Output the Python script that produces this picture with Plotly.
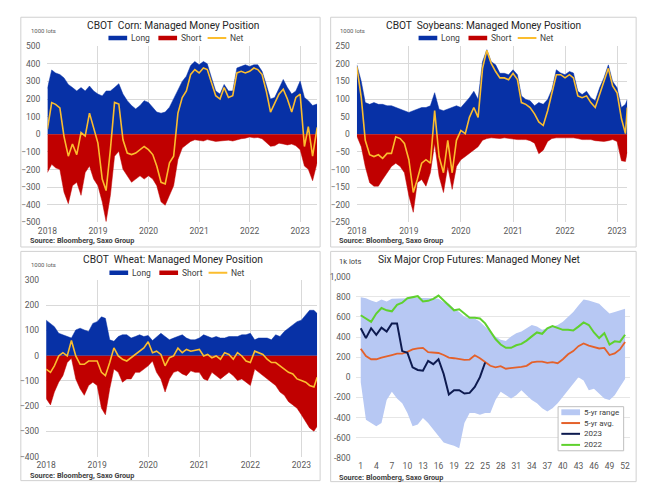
import pandas as pd
import plotly.graph_objects as go

# ---------------- DATA ----------------
year_vals = ["2018-01-01", "2019-01-01", "2020-01-01", "2021-01-01", "2022-01-01", "2023-01-01"]
year_text = ["2018", "2019", "2020", "2021", "2022", "2023"]

corn_dates = list(pd.date_range("2018-01-01", "2023-04-01", freq="MS").strftime("%Y-%m-%d")) + ["2023-05-04"]
corn_long = [260, 365, 348, 339, 320, 283, 265, 246, 265, 246, 274, 246,
             228, 218, 246, 246, 265, 287, 228, 191, 163, 144, 163, 191,
             181, 154, 126, 120, 126, 154, 200, 250, 300, 330, 390, 413,
             394, 413, 400, 320, 246, 228, 283, 246, 246, 376, 385, 394,
             385, 394, 394, 357, 283, 200, 209, 265, 311, 265, 228, 246,
             302, 209, 191, 163, 172]
corn_short = [-217, -170, -190, -200, -328, -393, -291, -272, -346, -217, -180, -254,
              -291, -383, -494, -346, -124, -96, -198, -235, -272, -254, -235, -254,
              -235, -254, -291, -383, -402, -346, -291, -143, -78, -59, -40, -31,
              -35, -38, -30, -35, -40, -38, -35, -33, -38, -30, -25, -22,
              -15, -20, -18, -25, -45, -68, -65, -50, -55, -60, -55, -65,
              -87, -180, -198, -263, -160]
corn_net = [30, 180, 170, 150, -13, -124, -55, -115, 10, -10, 120, 40,
            -50, -254, -319, -87, 181, 172, -31, -106, -115, -106, -87, -69,
            -87, -115, -180, -272, -281, -161, -124, 120, 209, 246, 340, 367,
            348, 376, 367, 293, 219, 200, 265, 209, 219, 348, 357, 348,
            357, 376, 367, 339, 246, 126, 172, 228, 256, 200, 126, 209,
            228, -69, 43, -124, 40]

soy_dates = list(pd.date_range("2018-01-01", "2023-03-01", freq="MS").strftime("%Y-%m-%d")) + ["2023-03-14"]
soy_long = [197, 150, 90, 85, 90, 85, 85, 81, 81, 76, 71, 67,
            62, 67, 71, 76, 76, 81, 118, 71, 67, 71, 76, 81,
            76, 90, 104, 122, 99, 206, 240, 206, 197, 173, 173, 169,
            183, 169, 109, 99, 95, 81, 90, 85, 99, 127, 183, 174,
            169, 178, 174, 122, 113, 122, 104, 95, 132, 160, 197, 150,
            132, 76, 85, 99]
soy_short = [-5, -35, -91, -137, -147, -147, -128, -109, -91, -82, -91, -109,
             -174, -221, -137, -128, -147, -109, -26, -119, -165, -91, -156, -91,
             -72, -63, -54, -45, -35, -17, -12, -10, -12, -12, -10, -12,
             -12, -15, -15, -15, -18, -25, -55, -45, -20, -12, -10, -10,
             -10, -8, -10, -12, -15, -15, -15, -18, -20, -20, -18, -15,
             -20, -75, -77, -50]
soy_net = [192, 104, -17, -58, -63, -58, -68, -54, -54, -7, -12, -26,
           -72, -165, -128, -82, -72, -82, 67, -63, -109, -17, -109, -17,
           11, 2, 48, 76, 48, 187, 238, 201, 178, 160, 160, 155,
           173, 155, 90, 85, 76, 58, 35, 25, 67, 114, 169, 169,
           160, 169, 160, 109, 104, 109, 90, 76, 114, 146, 187, 137,
           118, 44, 2, 76]

wheat_dates = list(pd.date_range("2018-01-01", "2023-04-01", freq="MS").strftime("%Y-%m-%d")) + ["2023-04-24"]
wheat_long = [141, 128, 115, 89, 83, 75, 70, 102, 109, 102, 96, 128,
              135, 154, 148, 63, 57, 76, 83, 83, 70, 76, 83, 76,
              80, 60, 76, 89, 76, 63, 70, 76, 83, 70, 63, 63,
              70, 83, 76, 70, 76, 70, 70, 76, 76, 76, 83, 83,
              89, 63, 70, 70, 70, 63, 83, 76, 96, 109, 122, 135,
              141, 160, 180, 180, 167]
wheat_short = [-170, -195, -144, -105, -79, -27, -10, -92, -131, -157, -118, -105,
               -118, -208, -234, -131, -53, -66, -105, -92, -92, -66, -66, -53,
               -40, -21, -66, -92, -144, -92, -66, -60, -72, -79, -60, -66,
               -66, -92, -98, -66, -79, -92, -79, -66, -79, -98, -92, -105,
               -118, -53, -66, -79, -92, -105, -118, -144, -157, -182, -195, -208,
               -234, -260, -286, -299, -280]
wheat_net = [-53, -66, -40, -1, 12, -1, 60, -1, -34, -34, -21, -21,
             -21, -66, -79, -27, 31, -1, -14, -21, -8, 5, 18, 31,
             55, 12, 18, 5, -40, -8, -1, 30, 12, 25, 18, 20,
             25, -1, 5, -8, -1, -14, 12, 5, -14, 12, -1, -21,
             -27, 18, 12, 5, -14, -27, -27, -40, -53, -66, -72, -92,
             -98, -105, -118, -124, -85]

weeks = list(range(1, 53))
week_ticks = [1, 4, 7, 10, 13, 16, 19, 22, 25, 28, 31, 34, 37, 40, 43, 46, 49, 52]
crop_ytick_vals = [-800, -600, -400, -200, 0, 200, 400, 600, 800, 1000]
crop_ytick_text = ["-800", "-600", "-400", "-200", "0", "200", "400", "600", "800", "1,000"]
range_hi = [796, 786, 763, 747, 773, 754, 780, 780, 780, 785,
            790, 790, 785, 785, 785, 780, 747, 731, 682, 650,
            601, 585, 585, 552, 504, 455, 407, 374, 360, 407,
            439, 455, 488, 520, 504, 472, 488, 504, 520, 552,
            601, 650, 715, 773, 763, 747, 731, 682, 634, 650,
            666, 682]
range_lo = [-48, -420, -453, -485, -453, -225, -144, -209, -258, -355,
            -485, -469, -404, -453, -517, -582, -647, -663, -679, -705,
            -453, -355, -355, -371, -355, -355, -225, -144, -177, -209,
            -177, -128, -177, -225, -258, -307, -339, -307, -258, -193,
            -128, -63, 2, -31, -128, -112, -160, -209, -225, -177,
            -96, -15]
avg5 = [284, 212, 180, 180, 196, 212, 222, 235, 235, 254,
        277, 287, 293, 251, 248, 242, 222, 196, 190, 183,
        173, 177, 219, 190, 154, 115, 99, 112, 86, 92,
        92, 105, 115, 148, 157, 157, 144, 151, 141, 180,
        229, 261, 310, 336, 316, 300, 287, 293, 222, 238,
        277, 352]
y2023 = [488, 390, 488, 423, 494, 455, 536, 536, 261, 245,
         99, 73, 66, 164, 131, 180, 34, -170, -128, -128,
         -160, -154, -96, 2, 148]
y2022 = [617, 585, 552, 634, 689, 666, 656, 721, 741, 786,
         799, 806, 754, 760, 780, 812, 763, 715, 666, 676,
         634, 592, 592, 585, 536, 455, 381, 326, 293, 293,
         319, 332, 365, 407, 446, 433, 488, 510, 494, 472,
         472, 465, 504, 546, 520, 446, 390, 439, 326, 358,
         352, 423]

# ---------------- STYLE ----------------
W, H = 646, 493
BLUE = "#0731a6"
RED = "#c00000"
YEL = "#fbbd2e"
GRID = "#d9d9d9"
TICK = "#595959"
FONT = "Roboto"
RANGE_C = "#b7c8f3"
AVG_C = "#e4612a"
C2023 = "#0d1a4f"
C2022 = "#5fd12e"


def px(x):
    return x / W


def py(y):
    return 1 - y / H


fig = go.Figure()


def add_pos_panel(n, dates, long_, short_, net_):
    xa = "x" if n == 1 else f"x{n}"
    ya = "y" if n == 1 else f"y{n}"
    fig.add_trace(go.Scatter(x=dates, y=long_, xaxis=xa, yaxis=ya, mode="lines",
                             fill="tozeroy", fillcolor=BLUE, line=dict(color=BLUE, width=0.5),
                             showlegend=False, name="Long"))
    fig.add_trace(go.Scatter(x=dates, y=short_, xaxis=xa, yaxis=ya, mode="lines",
                             fill="tozeroy", fillcolor=RED, line=dict(color=RED, width=0.5),
                             showlegend=False, name="Short"))
    fig.add_trace(go.Scatter(x=dates, y=net_, xaxis=xa, yaxis=ya, mode="lines",
                             line=dict(color=YEL, width=1.6),
                             showlegend=False, name="Net"))


add_pos_panel(1, corn_dates, corn_long, corn_short, corn_net)
add_pos_panel(2, soy_dates, soy_long, soy_short, soy_net)
add_pos_panel(3, wheat_dates, wheat_long, wheat_short, wheat_net)

# panel 4
fig.add_trace(go.Scatter(x=weeks, y=range_lo, xaxis="x4", yaxis="y4", mode="lines",
                         line=dict(width=0, color=RANGE_C), showlegend=False, name="5-yr range low"))
fig.add_trace(go.Scatter(x=weeks, y=range_hi, xaxis="x4", yaxis="y4", mode="lines",
                         fill="tonexty", fillcolor=RANGE_C,
                         line=dict(width=0, color=RANGE_C), showlegend=False, name="5-yr range"))
fig.add_trace(go.Scatter(x=weeks, y=avg5, xaxis="x4", yaxis="y4", mode="lines",
                         line=dict(color=AVG_C, width=1.8), showlegend=False, name="5-yr avg."))
fig.add_trace(go.Scatter(x=weeks[:len(y2023)], y=y2023, xaxis="x4", yaxis="y4", mode="lines",
                         line=dict(color=C2023, width=2), showlegend=False, name="2023"))
fig.add_trace(go.Scatter(x=weeks, y=y2022, xaxis="x4", yaxis="y4", mode="lines",
                         line=dict(color=C2022, width=2), showlegend=False, name="2022"))

tickfont = dict(family=FONT, size=8.5, color=TICK)


def date_xaxis(dom, end, anchor):
    return dict(domain=dom, type="date", range=["2018-01-01", end], anchor=anchor,
                tickvals=year_vals, ticktext=year_text, showgrid=True, gridcolor=GRID,
                gridwidth=1, zeroline=False, showline=False, ticks="", tickfont=tickfont,
                ticklabelstandoff=2, fixedrange=True)


def val_yaxis(dom, rng, dtick, anchor):
    return dict(domain=dom, range=rng, dtick=dtick, anchor=anchor, showgrid=True,
                gridcolor=GRID, gridwidth=1, zeroline=False, showline=False, ticks="",
                tickfont=tickfont, ticklabelstandoff=6, fixedrange=True)


shapes = []
annotations = []

# panel borders
for (x0, y0, x1, y1) in [(11, 12.5, 315, 247), (325.7, 12.5, 636, 247),
                         (11, 251.5, 315, 485.5), (325.7, 251.5, 636, 486.5)]:
    shapes.append(dict(type="rect", xref="paper", yref="paper", x0=px(x0), x1=px(x1),
                       y0=py(y1), y1=py(y0), line=dict(color="#d0d0d0", width=1),
                       fillcolor="rgba(0,0,0,0)", layer="below"))


def txt(x, y, s, size, color="#333333", xanchor="left", bold=False):
    annotations.append(dict(xref="paper", yref="paper", x=px(x), y=py(y),
                            text=(f"<b>{s}</b>" if bold else s),
                            showarrow=False, xanchor=xanchor, yanchor="middle",
                            font=dict(family=FONT, size=size, color=color)))


def top_legend(x_long, y):
    shapes.append(dict(type="rect", xref="paper", yref="paper", x0=px(x_long), x1=px(x_long + 19),
                       y0=py(y + 2.3), y1=py(y - 2.3), fillcolor=BLUE, line=dict(width=0), layer="above"))
    txt(x_long + 20.5, y, "Long", 8.5, "#404040")
    xs = x_long + 50.7
    shapes.append(dict(type="rect", xref="paper", yref="paper", x0=px(xs), x1=px(xs + 19),
                       y0=py(y + 2.3), y1=py(y - 2.3), fillcolor=RED, line=dict(width=0), layer="above"))
    txt(xs + 20.5, y, "Short", 8.5, "#404040")
    xn = x_long + 100.7
    shapes.append(dict(type="line", xref="paper", yref="paper", x0=px(xn), x1=px(xn + 19),
                       y0=py(y), y1=py(y), line=dict(color=YEL, width=2), layer="above"))
    txt(xn + 20.5, y, "Net", 8.5, "#404040")


TITLE_SIZE = 10.2
# Corn
txt(166, 20.7, "CBOT  Corn: Managed Money Position", TITLE_SIZE, "#262626", xanchor="center")
txt(19, 26, "1000 lots", 6, "#595959")
top_legend(100, 33.7)
txt(18, 240.7, "Source: Bloomberg, Saxo Group", 7.3, "#404040", bold=True)
# Soy
txt(480.5, 20.7, "CBOT  Soybeans: Managed Money Position", TITLE_SIZE, "#262626", xanchor="center")
txt(333, 26, "1000 lots", 6, "#595959")
top_legend(415, 33.7)
txt(332, 240.7, "Source: Bloomberg, Saxo Group", 7.3, "#404040", bold=True)
# Wheat
txt(166, 259.7, "CBOT  Wheat: Managed Money Position", TITLE_SIZE, "#262626", xanchor="center")
txt(19, 265, "1000 lots", 6, "#595959")
top_legend(101, 273.3)
txt(18, 480, "Source: Bloomberg, Saxo Group", 7.3, "#404040", bold=True)
# Panel 4
txt(476, 260, "Six Major Crop Futures: Managed Money Net", TITLE_SIZE, "#262626", xanchor="center")
txt(332, 262, "1k lots", 7.5, "#404040")
txt(332, 482, "Source: Bloomberg, Saxo Group", 7.3, "#404040", bold=True)

# panel 4 legend
shapes.append(dict(type="rect", xref="paper", yref="paper", x0=px(556.7), x1=px(623.3),
                   y0=py(455), y1=py(410), fillcolor="white", line=dict(color="#bfbfbf", width=1),
                   layer="above"))
rows = [415.7, 426.7, 437.7, 449]
shapes.append(dict(type="rect", xref="paper", yref="paper", x0=px(560), x1=px(579),
                   y0=py(rows[0] + 3), y1=py(rows[0] - 3), fillcolor=RANGE_C, line=dict(width=0),
                   layer="above"))
for r, c in zip(rows[1:], [AVG_C, C2023, C2022]):
    shapes.append(dict(type="line", xref="paper", yref="paper", x0=px(560), x1=px(579),
                       y0=py(r), y1=py(r), line=dict(color=c, width=2), layer="above"))
for r, s in zip(rows, ["5-yr range", "5-yr avg.", "2023", "2022"]):
    txt(581.5, r, s, 8, "#404040")

fig.update_layout(
    width=W, height=H, margin=dict(l=0, r=0, t=0, b=0),
    paper_bgcolor="white", plot_bgcolor="white", showlegend=False,
    xaxis=date_xaxis([px(38), px(312)], "2023-05-04", "y"),
    yaxis=val_yaxis([py(222), py(42)], [-500, 500], 100, "x"),
    xaxis2=date_xaxis([px(352.3), px(627)], "2023-03-14", "y2"),
    yaxis2=val_yaxis([py(222), py(42)], [-250, 250], 50, "x2"),
    xaxis3=date_xaxis([px(36.7), px(312)], "2023-04-24", "y3"),
    yaxis3=val_yaxis([py(461), py(280.7)], [-400, 300], 100, "x3"),
    xaxis4=dict(domain=[px(351), px(630)], range=[0, 53], anchor="y4", tickvals=week_ticks,
                showgrid=False, zeroline=False, showline=False, ticks="", tickfont=tickfont,
                ticklabelstandoff=2, fixedrange=True),
    yaxis4=dict(domain=[py(462.3), py(277.3)], range=[-800, 1000], anchor="x4",
                tickvals=crop_ytick_vals, ticktext=crop_ytick_text, showgrid=True,
                gridcolor="#e6e6e6", zeroline=False, showline=False, ticks="", tickfont=tickfont,
                ticklabelstandoff=4, fixedrange=True),
    shapes=shapes, annotations=annotations,
)

fig.write_html("out.html", config={"displayModeBar": False},
               post_script="document.body.style.margin='0px';document.body.style.overflow='hidden';")
